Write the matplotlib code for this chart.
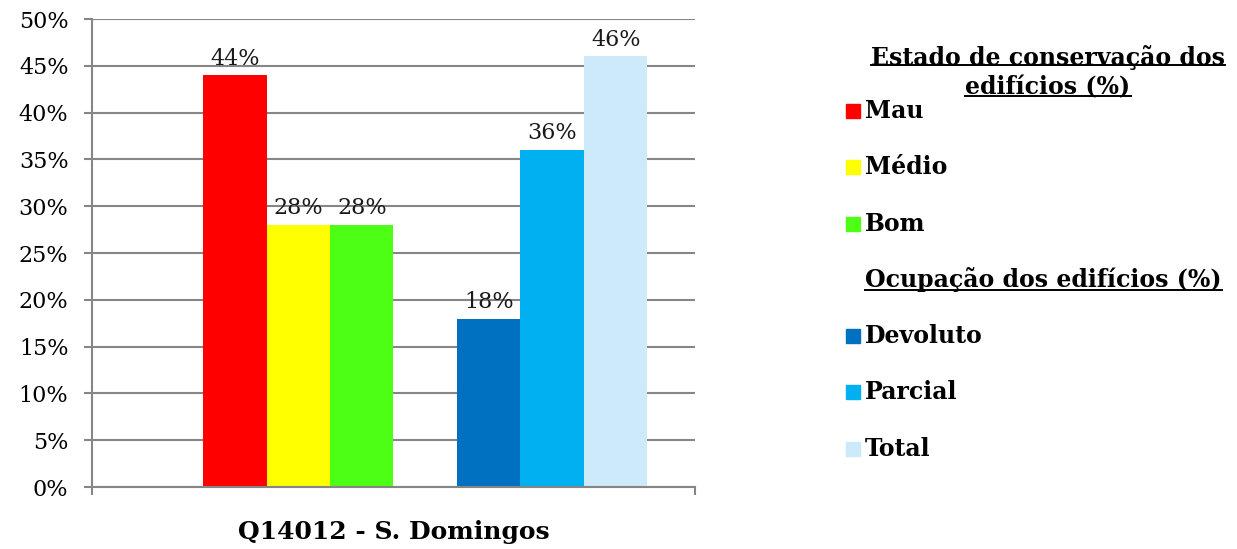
import matplotlib
matplotlib.use("Agg")
import matplotlib.pyplot as plt
from matplotlib.patches import Rectangle
from matplotlib.lines import Line2D

# ---- data ----
category = "Q14012 - S. Domingos"
header_estado = "Estado de conservação dos\nedifícios (%)"
header_ocup = "Ocupação dos edifícios (%)"
estado_labels = ["Mau", "Médio", "Bom"]
estado_values = [44, 28, 28]
ocup_labels = ["Devoluto", "Parcial", "Total"]
ocup_values = [18, 36, 46]
yticks = [0, 5, 10, 15, 20, 25, 30, 35, 40, 45, 50]

estado_colors = ["#FF0000", "#FFFF00", "#4CFF14"]
ocup_colors = ["#0070C0", "#00B0F0", "#CCEAFA"]

FONT = "DejaVu Serif"
plt.rcParams["font.family"] = FONT

W, H = 1237, 549
fig = plt.figure(figsize=(W / 100, H / 100), dpi=100)
ax = fig.add_axes([92 / W, 62 / H, 603 / W, 468 / H])

# 8 slots: header, 3 estado, header, 3 ocup (headers empty)
labels = [None] + estado_labels + [None] + ocup_labels
values = [None] + estado_values + [None] + ocup_values
colors = [None] + estado_colors + [None] + ocup_colors
for i, (lab, v, c) in enumerate(zip(labels, values, colors)):
    if v is None:
        continue
    xc = 0.75 + i + 0.5
    ax.bar(xc, v, width=1.0, color=c, zorder=2)
    ax.annotate(f"{v}%", (xc, v), xytext=(0, 4), textcoords="offset points",
                ha="center", va="bottom", fontsize=16, color="#1a1a1a")

ax.set_xlim(0, 9.5)
ax.set_ylim(0, 50)
ax.set_yticks(yticks)
ax.set_yticklabels([f"{t}%" for t in yticks], fontsize=16)
ax.grid(axis="y", color="#868686", linewidth=1.5, zorder=0)
ax.set_axisbelow(True)
for s in ["top", "right"]:
    ax.spines[s].set_visible(False)
for s in ["left", "bottom"]:
    ax.spines[s].set_color("#868686")
    ax.spines[s].set_linewidth(1.5)
ax.tick_params(axis="y", length=6, width=1.5, color="#868686", pad=11)
ax.set_xticks([0, 9.5])
ax.set_xticklabels([])
ax.tick_params(axis="x", length=6, width=1.5, color="#868686", direction="out")
ax.set_xlabel(category, fontsize=18, fontweight="bold", labelpad=14)

# ---- manual legend ----
def ypix(y):
    return 1 - y / H

def xpix(x):
    return x / W

lfs = 17
h1 = fig.text(xpix(1048), ypix(72), header_estado, ha="center", va="center",
              fontsize=lfs, fontweight="bold", linespacing=1.3)
h2 = fig.text(xpix(865), ypix(280), header_ocup, ha="left", va="center",
              fontsize=lfs, fontweight="bold")

entries_y = [111, 167, 224, None, 336, 392, 449]
entry_labels = estado_labels + [None] + ocup_labels
entry_colors = estado_colors + [None] + ocup_colors
for y, lab, c in zip(entries_y, entry_labels, entry_colors):
    if lab is None:
        continue
    fig.patches.append(Rectangle((xpix(846), ypix(y + 7)), 14 / W, 14 / H,
                                 transform=fig.transFigure, color=c, figure=fig))
    fig.text(xpix(865), ypix(y), lab, ha="left", va="center",
             fontsize=lfs, fontweight="bold")

fig.canvas.draw()
renderer = fig.canvas.get_renderer()
# underline header lines
for t in [h1, h2]:
    bb = t.get_window_extent(renderer)
    lines = t.get_text().split("\n")
    n = len(lines)
    lh = bb.height / n
    for k, line in enumerate(lines):
        tmp = fig.text(0, 0, line, fontsize=lfs, fontweight="bold")
        lw = tmp.get_window_extent(renderer).width
        tmp.remove()
        if t.get_ha() == "center":
            cx = (bb.x0 + bb.x1) / 2
            x0, x1 = cx - lw / 2, cx + lw / 2
        else:
            x0, x1 = bb.x0, bb.x0 + lw
        yb = bb.y1 - (k + 1) * lh + (7 if n > 1 and k < n - 1 else 3)
        fig.lines.append(Line2D([x0 / W, x1 / W], [yb / H, yb / H],
                                transform=fig.transFigure, color="black",
                                linewidth=1.4, figure=fig))

fig.savefig("out.png", dpi=100)
